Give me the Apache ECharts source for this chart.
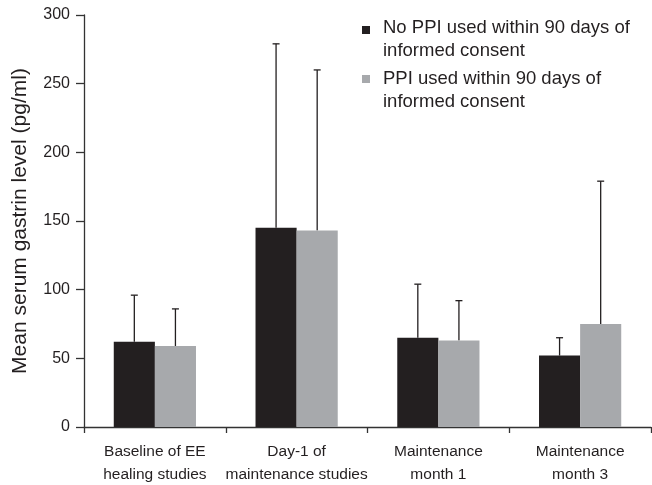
<!DOCTYPE html>
<html>
<head>
<meta charset="utf-8">
<script src="https://cdn.jsdelivr.net/npm/echarts@6/dist/echarts.min.js"></script>
<style>
  html, body { margin: 0; padding: 0; background: #fff; }
  #chart { width: 652px; height: 485px; }
</style>
</head>
<body>
<div id="chart"></div>
<script>
// Timepoints on the x axis
const categories = [
  'Baseline of EE\nhealing studies',
  'Day-1 of\nmaintenance studies',
  'Maintenance\nmonth 1',
  'Maintenance\nmonth 3'
];

// Mean serum gastrin (pg/ml) and top of the upper error bar
const noPpiMean  = [62, 145, 65, 52];
const noPpiUpper = [96, 279, 104, 65];
const ppiMean    = [59, 143, 63, 75];
const ppiUpper   = [86, 260, 92, 179];

// Y axis ticks
const yTicks = [0, 50, 100, 150, 200, 250, 300];

const seriesNames = [
  'No PPI used within 90 days of\ninformed consent',
  'PPI used within 90 days of\ninformed consent'
];

const DARK = '#231f20';
const GREY = '#a7a9ac';
const FONT = '"Liberation Sans", Arial, Helvetica, sans-serif';
const CATEGORY_GAP = 0.42;

const chart = echarts.init(document.getElementById('chart'), null, { renderer: 'canvas' });

// Upper-only error bar with a short cap, centred on its bar
function errorBar(sideSign) {
  return function (params, api) {
    const idx = api.value(0);
    const base = api.coord([idx, api.value(1)]);
    const top = api.coord([idx, api.value(2)]);
    const band = api.size([1, 0])[0];
    const barW = band * (1 - CATEGORY_GAP) / 2;
    const x = base[0] + sideSign * barW / 2;
    const cap = 3.5;
    const style = { stroke: DARK, lineWidth: 1.3 };
    return {
      type: 'group',
      children: [
        { type: 'line', shape: { x1: x, y1: base[1], x2: x, y2: top[1] }, style: style },
        { type: 'line', shape: { x1: x - cap, y1: top[1], x2: x + cap, y2: top[1] }, style: style }
      ]
    };
  };
}

const option = {
  animation: false,
  backgroundColor: '#fff',
  grid: {
    left: 84, right: 1, top: 15, bottom: 58,
    containLabel: false,
    outerBoundsMode: 'none'
  },
  xAxis: {
    type: 'category',
    data: categories,
    axisLine: { lineStyle: { color: '#333', width: 1.3 } },
    axisTick: { show: true, length: 6, lineStyle: { color: '#333', width: 1.3 } },
    axisLabel: {
      color: DARK, fontFamily: FONT, fontSize: 15.5, lineHeight: 23, margin: 13,
      interval: 0
    }
  },
  yAxis: {
    type: 'value',
    min: yTicks[0],
    max: yTicks[yTicks.length - 1],
    interval: yTicks[1] - yTicks[0],
    name: 'Mean serum gastrin level (pg/ml)',
    nameLocation: 'middle',
    nameGap: 53,
    nameTextStyle: { color: DARK, fontFamily: FONT, fontSize: 21 },
    axisLine: { show: true, lineStyle: { color: '#333', width: 1.3 } },
    axisTick: { show: true, length: 8, lineStyle: { color: '#333', width: 1.3 } },
    axisLabel: { color: DARK, fontFamily: FONT, fontSize: 16, margin: 14 },
    splitLine: { show: false }
  },
  graphic: [
    { type: 'rect', left: 362, top: 26, shape: { width: 8, height: 8 }, style: { fill: DARK } },
    { type: 'text', left: 383, top: 16.5,
      style: { text: seriesNames[0], fill: DARK, font: '18.5px ' + FONT, lineHeight: 23 } },
    { type: 'rect', left: 362, top: 75, shape: { width: 8, height: 8 }, style: { fill: GREY } },
    { type: 'text', left: 383, top: 67.5,
      style: { text: seriesNames[1], fill: DARK, font: '18.5px ' + FONT, lineHeight: 23 } }
  ],
  series: [
    {
      name: seriesNames[0], type: 'bar', data: noPpiMean,
      barGap: '0%', barCategoryGap: (CATEGORY_GAP * 100) + '%',
      itemStyle: { color: DARK }
    },
    {
      name: seriesNames[1], type: 'bar', data: ppiMean,
      barGap: '0%', barCategoryGap: (CATEGORY_GAP * 100) + '%',
      itemStyle: { color: GREY }
    },
    {
      type: 'custom', renderItem: errorBar(-1), z: 1,
      data: noPpiMean.map((v, i) => [i, v, noPpiUpper[i]]),
      encode: { x: 0, y: [1, 2] }
    },
    {
      type: 'custom', renderItem: errorBar(1), z: 1,
      data: ppiMean.map((v, i) => [i, v, ppiUpper[i]]),
      encode: { x: 0, y: [1, 2] }
    }
  ]
};

chart.setOption(option);
</script>
</body>
</html>
